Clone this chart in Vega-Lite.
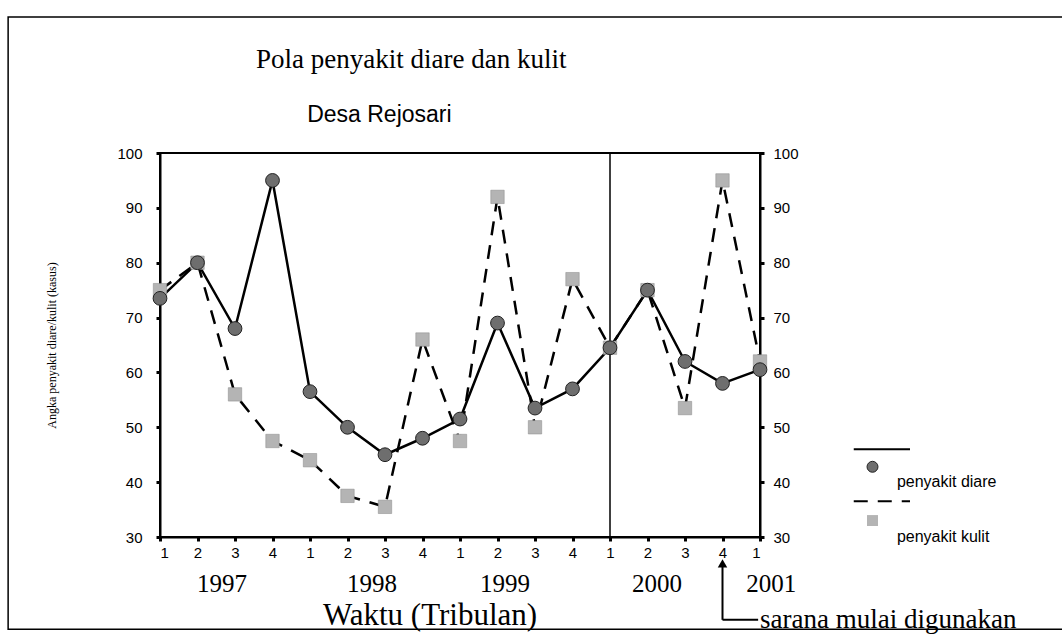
{
  "$schema": "https://vega.github.io/schema/vega-lite/v6.json",
  "width": 600,
  "height": 384,
  "autosize": {"type": "none"},
  "padding": {"left": 160, "top": 153, "right": 302, "bottom": 107},
  "background": "white",
  "config": {
    "view": {"stroke": "black", "strokeWidth": 2},
    "axis": {
      "domainColor": "black", "domainWidth": 2, "tickColor": "black", "tickWidth": 3, "tickSize": 4,
      "labelColor": "black", "grid": false, "labelFont": "Liberation Sans", "labelFontSize": 15,
      "titleColor": "black", "titleFontWeight": "normal"
    },
    "text": {"fill": "black", "fontWeight": "normal"}
  },
  "datasets": {
    "one": [{}]
  },
  "data": {"values": [
    {"t": 0, "diare": 73.5, "kulit": 75},
    {"t": 1, "diare": 80, "kulit": 80},
    {"t": 2, "diare": 68, "kulit": 56},
    {"t": 3, "diare": 95, "kulit": 47.5},
    {"t": 4, "diare": 56.5, "kulit": 44},
    {"t": 5, "diare": 50, "kulit": 37.5},
    {"t": 6, "diare": 45, "kulit": 35.5},
    {"t": 7, "diare": 48, "kulit": 66},
    {"t": 8, "diare": 51.5, "kulit": 47.5},
    {"t": 9, "diare": 69, "kulit": 92},
    {"t": 10, "diare": 53.5, "kulit": 50},
    {"t": 11, "diare": 57, "kulit": 77},
    {"t": 12, "diare": 64.5, "kulit": 64.5},
    {"t": 13, "diare": 75, "kulit": 75},
    {"t": 14, "diare": 62, "kulit": 53.5},
    {"t": 15, "diare": 58, "kulit": 95},
    {"t": 16, "diare": 60.5, "kulit": 62}
  ]},
  "layer": [
    {
      "mark": {"type": "line", "color": "black", "strokeWidth": 2.5, "strokeDash": [14, 10]},
      "encoding": {
        "x": {"field": "t", "type": "quantitative", "scale": {"domain": [0, 16], "nice": false, "zero": false},
          "axis": {"values": [0,1,2,3,4,5,6,7,8,9,10,11,12,13,14,15,16], "labelExpr": "(datum.value % 4) + 1", "labelPadding": 4, "title": null}},
        "y": {"field": "kulit", "type": "quantitative", "scale": {"domain": [30, 100], "nice": false, "zero": false},
          "axis": {"orient": "left", "values": [30,40,50,60,70,80,90,100], "labelPadding": 14, "title": "Angka penyakit diare/kulit (kasus)", "titleFont": "Liberation Serif", "titleFontSize": 12, "titlePadding": 58}}
      }
    },
    {
      "mark": {"type": "line", "color": "black", "strokeWidth": 2.5},
      "encoding": {
        "x": {"field": "t", "type": "quantitative", "axis": null},
        "y": {"field": "diare", "type": "quantitative",
          "axis": {"orient": "right", "values": [30,40,50,60,70,80,90,100], "labelPadding": 9, "title": null}}
      }
    },
    {
      "data": {"name": "one"},
      "mark": {"type": "rule", "color": "black", "strokeWidth": 1.5},
      "encoding": {"x": {"datum": 12, "type": "quantitative", "axis": null}}
    },
    {
      "mark": {"type": "point", "shape": "square", "filled": true, "fill": "#b4b4b4", "stroke": "#888888", "strokeWidth": 0.5, "size": 180, "opacity": 1},
      "encoding": {
        "x": {"field": "t", "type": "quantitative", "axis": null},
        "y": {"field": "kulit", "type": "quantitative", "axis": null}
      }
    },
    {
      "mark": {"type": "point", "shape": "circle", "filled": true, "fill": "#6e6e6e", "stroke": "#222222", "strokeWidth": 1, "size": 190, "opacity": 1},
      "encoding": {
        "x": {"field": "t", "type": "quantitative", "axis": null},
        "y": {"field": "diare", "type": "quantitative", "axis": null}
      }
    },
    {
      "data": {"name": "one"},
      "mark": {"type": "text", "text": "Pola  penyakit diare dan kulit", "font": "Liberation Serif", "fontSize": 27, "align": "center", "baseline": "middle"},
      "encoding": {"x": {"datum": 6.7, "type": "quantitative", "axis": null}, "y": {"datum": 117, "type": "quantitative", "axis": null}}
    },
    {
      "data": {"name": "one"},
      "mark": {"type": "text", "text": "Desa Rejosari", "font": "Liberation Sans", "fontSize": 23, "align": "center", "baseline": "middle"},
      "encoding": {"x": {"datum": 5.85, "type": "quantitative", "axis": null}, "y": {"datum": 106.9, "type": "quantitative", "axis": null}}
    },
    {
      "data": {"name": "one"},
      "mark": {"type": "text", "text": "1997", "font": "Liberation Serif", "fontSize": 25, "align": "center", "baseline": "middle"},
      "encoding": {"x": {"datum": 1.65, "type": "quantitative", "axis": null}, "y": {"datum": 21.4, "type": "quantitative", "axis": null}}
    },
    {
      "data": {"name": "one"},
      "mark": {"type": "text", "text": "1998", "font": "Liberation Serif", "fontSize": 25, "align": "center", "baseline": "middle"},
      "encoding": {"x": {"datum": 5.65, "type": "quantitative", "axis": null}, "y": {"datum": 21.4, "type": "quantitative", "axis": null}}
    },
    {
      "data": {"name": "one"},
      "mark": {"type": "text", "text": "1999", "font": "Liberation Serif", "fontSize": 25, "align": "center", "baseline": "middle"},
      "encoding": {"x": {"datum": 9.2, "type": "quantitative", "axis": null}, "y": {"datum": 21.4, "type": "quantitative", "axis": null}}
    },
    {
      "data": {"name": "one"},
      "mark": {"type": "text", "text": "2000", "font": "Liberation Serif", "fontSize": 25, "align": "center", "baseline": "middle"},
      "encoding": {"x": {"datum": 13.25, "type": "quantitative", "axis": null}, "y": {"datum": 21.4, "type": "quantitative", "axis": null}}
    },
    {
      "data": {"name": "one"},
      "mark": {"type": "text", "text": "2001", "font": "Liberation Serif", "fontSize": 25, "align": "center", "baseline": "middle"},
      "encoding": {"x": {"datum": 16.3, "type": "quantitative", "axis": null}, "y": {"datum": 21.4, "type": "quantitative", "axis": null}}
    },
    {
      "data": {"name": "one"},
      "mark": {"type": "text", "text": "Waktu (Tribulan)", "font": "Liberation Serif", "fontSize": 31, "align": "center", "baseline": "middle"},
      "encoding": {"x": {"datum": 7.2, "type": "quantitative", "axis": null}, "y": {"datum": 15.6, "type": "quantitative", "axis": null}}
    },
    {
      "data": {"name": "one"},
      "mark": {"type": "rule", "color": "black", "strokeWidth": 2},
      "encoding": {"x": {"datum": 18.5, "type": "quantitative", "axis": null}, "x2": {"datum": 20.0}, "y": {"datum": 46, "type": "quantitative", "axis": null}}
    },
    {
      "data": {"name": "one"},
      "mark": {"type": "rule", "color": "black", "strokeWidth": 2, "strokeDash": [14, 10]},
      "encoding": {"x": {"datum": 18.5, "type": "quantitative", "axis": null}, "x2": {"datum": 20.0}, "y": {"datum": 36.5, "type": "quantitative", "axis": null}}
    },
    {
      "data": {"name": "one"},
      "mark": {"type": "point", "shape": "circle", "filled": true, "fill": "#6e6e6e", "stroke": "#222222", "strokeWidth": 1, "size": 120, "opacity": 1},
      "encoding": {"x": {"datum": 19.0, "type": "quantitative", "axis": null}, "y": {"datum": 42.8, "type": "quantitative", "axis": null}}
    },
    {
      "data": {"name": "one"},
      "mark": {"type": "point", "shape": "square", "filled": true, "fill": "#b4b4b4", "size": 120, "opacity": 1},
      "encoding": {"x": {"datum": 19.0, "type": "quantitative", "axis": null}, "y": {"datum": 33, "type": "quantitative", "axis": null}}
    },
    {
      "data": {"name": "one"},
      "mark": {"type": "text", "text": "penyakit diare", "font": "Liberation Sans", "fontSize": 16, "align": "left", "baseline": "middle"},
      "encoding": {"x": {"datum": 19.65, "type": "quantitative", "axis": null}, "y": {"datum": 40, "type": "quantitative", "axis": null}}
    },
    {
      "data": {"name": "one"},
      "mark": {"type": "text", "text": "penyakit kulit", "font": "Liberation Sans", "fontSize": 16, "align": "left", "baseline": "middle"},
      "encoding": {"x": {"datum": 19.65, "type": "quantitative", "axis": null}, "y": {"datum": 30, "type": "quantitative", "axis": null}}
    },
    {
      "data": {"name": "one"},
      "mark": {"type": "rule", "color": "black", "strokeWidth": 2},
      "encoding": {"x": {"datum": 15, "type": "quantitative", "axis": null}, "y": {"datum": 25.2, "type": "quantitative", "axis": null}, "y2": {"datum": 14.9}}
    },
    {
      "data": {"name": "one"},
      "mark": {"type": "rule", "color": "black", "strokeWidth": 2},
      "encoding": {"x": {"datum": 15, "type": "quantitative", "axis": null}, "x2": {"datum": 15.95}, "y": {"datum": 14.9, "type": "quantitative", "axis": null}}
    },
    {
      "data": {"name": "one"},
      "mark": {"type": "point", "shape": "triangle-up", "filled": true, "color": "black", "size": 90, "opacity": 1},
      "encoding": {"x": {"datum": 15, "type": "quantitative", "axis": null}, "y": {"datum": 25.2, "type": "quantitative", "axis": null}}
    },
    {
      "data": {"name": "one"},
      "mark": {"type": "text", "text": "sarana mulai digunakan", "font": "Liberation Serif", "fontSize": 27, "align": "left", "baseline": "middle"},
      "encoding": {"x": {"datum": 16.0, "type": "quantitative", "axis": null}, "y": {"datum": 14.9, "type": "quantitative", "axis": null}}
    },
    {
      "data": {"name": "one"},
      "mark": {"type": "rect", "fill": null, "fillOpacity": 0, "stroke": "black", "strokeWidth": 1.5},
      "encoding": {"x": {"datum": -4.05, "type": "quantitative", "axis": null}, "x2": {"datum": 24.5}, "y": {"datum": 124.8, "type": "quantitative", "axis": null}, "y2": {"datum": 13.2}}
    }
  ],
  "resolve": {"axis": {"x": "independent", "y": "independent"}}
}
